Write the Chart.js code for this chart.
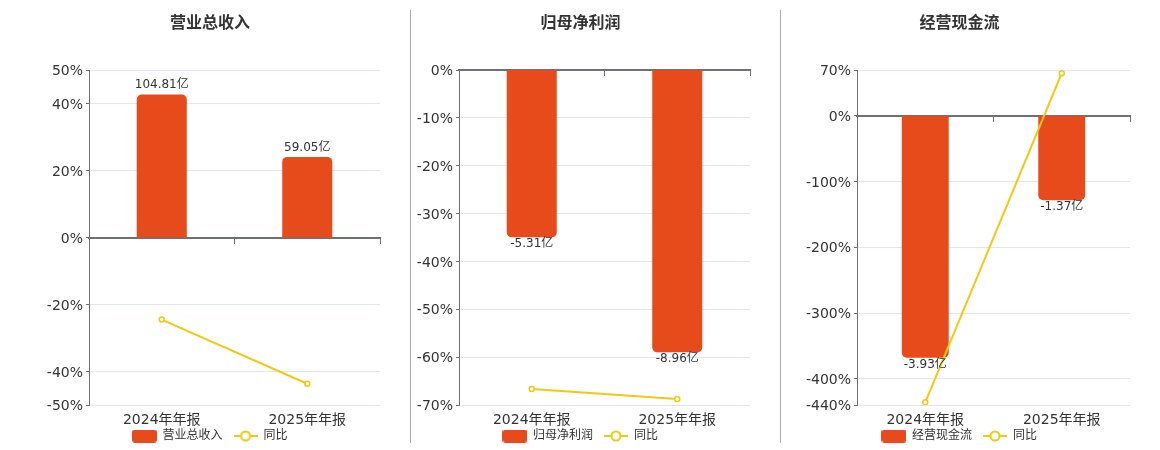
<!DOCTYPE html>
<html>
<head>
<meta charset="utf-8">
<script src="https://cdn.jsdelivr.net/npm/chart.js@4.4.1/dist/chart.umd.min.js"></script>
<style>
  body { margin: 0; background: #fff; }
  #wrap { position: relative; width: 1160px; height: 450px; }
  canvas { position: absolute; top: 0; }
  .sep { position: absolute; top: 10px; width: 1px; height: 433px; background: #aaa; }
</style>
</head>
<body>
<div id="wrap">
  <canvas id="c1" width="410" height="450" style="left:0"></canvas>
  <div class="sep" style="left:410px"></div>
  <canvas id="c2" width="369" height="450" style="left:411px"></canvas>
  <div class="sep" style="left:780px"></div>
  <canvas id="c3" width="379" height="450" style="left:781px"></canvas>
</div>
<script>
// shared
const categories = ['2024年年报', '2025年年报'];

// 营业总收入 (亿) + 同比 (%)
const revenue = [104.81, 59.05];
const revenueYoY = [-24.5, -43.66];
const revenueTicks = [50, 40, 20, 0, -20, -40, -50];

// 归母净利润
const netProfit = [-5.31, -8.96];
const netProfitYoY = [-66.65, -68.74];
const netProfitTicks = [0, -10, -20, -30, -40, -50, -60, -70];

// 经营现金流
const cashFlow = [-3.93, -1.37];
const cashFlowYoY = [-436, 65.14];
const cashFlowTicks = [70, 0, -100, -200, -300, -400, -440];

const BAR = '#E84B1B';
const LINE = '#F2C811';
const AXIS = '#6E7079';
const GRID = '#E0E6F1';

Chart.defaults.font.family = "'DejaVu Sans', 'Noto Sans CJK SC', sans-serif";
Chart.defaults.color = '#333';

// legend icons
function barIcon() {
  const c = document.createElement('canvas');
  c.width = 25; c.height = 13;
  const g = c.getContext('2d');
  g.fillStyle = BAR;
  g.beginPath();
  g.roundRect(0, 0, 25, 13, 3);
  g.fill();
  return c;
}
function lineIcon() {
  const c = document.createElement('canvas');
  c.width = 24; c.height = 14;
  const g = c.getContext('2d');
  g.strokeStyle = LINE;
  g.lineWidth = 2;
  g.beginPath();
  g.moveTo(0, 7); g.lineTo(24, 7);
  g.stroke();
  g.beginPath();
  g.arc(12, 7, 4.5, 0, Math.PI * 2);
  g.fillStyle = '#fff';
  g.fill();
  g.stroke();
  return c;
}
const icons = [barIcon(), lineIcon()];

const barLabels = {
  id: 'barLabels',
  afterDatasetsDraw(chart) {
    const ctx = chart.ctx;
    const vals = chart.data.datasets[0].data;
    ctx.save();
    ctx.font = "12px 'DejaVu Sans', 'Noto Sans CJK SC', sans-serif";
    ctx.fillStyle = '#333';
    ctx.textAlign = 'center';
    ctx.textBaseline = 'middle';
    chart.getDatasetMeta(0).data.forEach((bar, i) => {
      const v = vals[i];
      ctx.fillText(v.toFixed(2) + '亿', bar.x, v >= 0 ? bar.y - 9.5 : bar.y + 7);
    });
    ctx.restore();
  }
};

function makeChart(id, p) {
  new Chart(document.getElementById(id), {
    type: 'bar',
    data: {
      labels: categories,
      datasets: [
        {
          label: p.title,
          data: p.bars,
          yAxisID: 'y1',
          backgroundColor: BAR,
          borderRadius: 5,
          barPercentage: 0.344,
          categoryPercentage: 1,
          order: 1
        },
        {
          type: 'line',
          label: '同比',
          data: p.yoy,
          yAxisID: 'y',
          borderColor: LINE,
          borderWidth: 2,
          pointRadius: 2.5,
          pointBorderWidth: 1.5,
          pointBackgroundColor: '#fff',
          pointBorderColor: LINE,
          order: 0
        }
      ]
    },
    options: {
      responsive: false,
      animation: false,
      layout: { padding: { left: p.padLeft, right: 30, top: 0, bottom: -2 } },
      plugins: {
        title: {
          display: true,
          text: p.title,
          font: { size: 16, weight: 'bold' },
          color: '#333',
          padding: { top: 14, bottom: 36.8 }
        },
        legend: {
          position: 'bottom',
          labels: {
            usePointStyle: true,
            pointStyleWidth: 24,
            padding: 11,
            font: { size: 12 },
            color: '#333',
            sort: (a, b) => a.datasetIndex - b.datasetIndex,
            generateLabels(chart) {
              return Chart.defaults.plugins.legend.labels.generateLabels(chart).map(it => {
                it.pointStyle = icons[it.datasetIndex];
                return it;
              });
            }
          }
        },
        tooltip: { enabled: false }
      },
      scales: {
        x: {
          offset: true,
          grid: { display: false },
          border: { display: false },
          // mirror keeps the labels unclipped while the axis box stays short
          ticks: { font: { size: 14 }, mirror: true, padding: -23.4, color: '#333' },
          afterFit: s => { s.height = 14; }
        },
        x2: {
          type: 'category',
          axis: 'x',
          position: { y: 0 },
          offset: true,
          z: 1,
          grid: { offset: true, drawOnChartArea: false, tickLength: 5, tickColor: AXIS, tickWidth: 1 },
          border: { color: AXIS, width: 2 },
          ticks: { display: false }
        },
        y: {
          min: p.ticks[p.ticks.length - 1],
          max: p.ticks[0],
          afterBuildTicks: s => { s.ticks = p.ticks.map(v => ({ value: v })); },
          afterFit: s => { s.width = p.axisWidth; },
          grid: {
            color: c => (c.tick && c.tick.value === 0 ? 'rgba(0,0,0,0)' : GRID),
            tickColor: AXIS,
            tickLength: 3
          },
          border: { color: AXIS, width: 1 },
          ticks: {
            autoSkip: false,
            font: { size: 14 },
            padding: 3,
            labelOffset: 1.5,
            color: '#333',
            callback: v => v + '%'
          }
        },
        y1: {
          display: false,
          min: p.barMin,
          max: p.barMax
        }
      }
    },
    plugins: [barLabels]
  });
}

makeChart('c1', {
  title: '营业总收入', bars: revenue, yoy: revenueYoY, ticks: revenueTicks,
  barMin: -122.7, barMax: 122.7, padLeft: 40, axisWidth: 49
});
makeChart('c2', {
  title: '归母净利润', bars: netProfit, yoy: netProfitYoY, ticks: netProfitTicks,
  barMin: -10.63, barMax: 0, padLeft: 0, axisWidth: 48
});
makeChart('c3', {
  title: '经营现金流', bars: cashFlow, yoy: cashFlowYoY, ticks: cashFlowTicks,
  barMin: -4.70, barMax: 0.748, padLeft: 8, axisWidth: 68
});
</script>
</body>
</html>
